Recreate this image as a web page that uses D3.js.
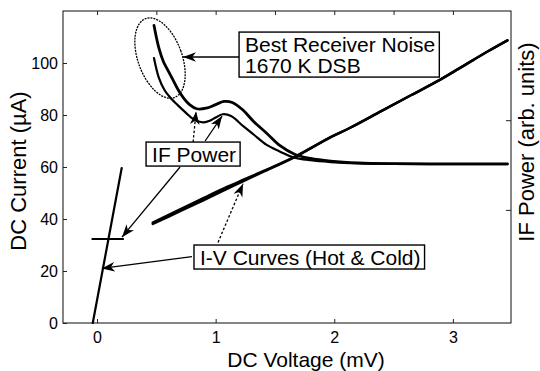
<!DOCTYPE html>
<html>
<head>
<meta charset="utf-8">
<script src="https://cdn.jsdelivr.net/npm/d3@7"></script>
<style>
body{margin:0;background:#fff;}
svg{display:block;font-family:"Liberation Sans",Arial,sans-serif;}
</style>
</head>
<body>
<div id="chart"></div>
<script>
// values (voltage in mV, current in uA)
const xTicks=[0,1,2,3];
const yTicks=[0,20,40,60,80,100];
const topTicks=[0,0.5,1,1.5,2,2.5,3];
const rightTicks=[43.5,78];

// subgap part of the I-V curve
const ivSubV=[-0.036,0.208];
const ivSubI=[0,59.6];
// quasiparticle branch, cold and hot load
const ivV=[0.47,0.7,0.9,1.1,1.23,1.4,1.67,1.97,2.13,2.4,2.65,2.89,3.1,3.3,3.46];
const ivColdI=[38.1,43.0,47.3,51.7,54.5,58.1,63.9,71.5,75,81.6,87.7,93.5,99.2,104.6,108.7];
const ivHotI=[38.6,43.7,48.1,52.4,55.0,58.4,64.0,71.5,75,81.6,87.7,93.5,99.2,104.6,108.7];

// IF power, hot (upper) and cold (lower), plotted on the current scale
const ifHotV=[0.48,0.52,0.56,0.6,0.64,0.68,0.73,0.78,0.84,0.92,1.0,1.07,1.14,1.23,1.32,1.43,1.54,1.67,1.8,1.97,2.2,2.5,3.0,3.46];
const ifHotP=[114.5,106,100.5,97,93.5,90,86.5,84,82.4,82.6,84,85.2,84.8,81.9,77.5,73,68.3,64.8,63.3,62.3,61.6,61.3,61.2,61.2];
const ifColdV=[0.48,0.52,0.57,0.62,0.68,0.75,0.8,0.85,0.9,0.95,1.0,1.06,1.13,1.23,1.32,1.43,1.54,1.65,1.8,1.97,2.2,2.5,3.0,3.46];
const ifColdP=[101.9,94.5,89.5,86.5,83.8,80.8,78.8,77.6,77.2,77.8,79,80.3,79.6,75.8,72.5,68.5,66,63.8,62.6,61.9,61.4,61.2,61.1,61.1];
// IF power level at low bias
const ifLowV=[-0.04,0.22];
const ifLowP=[32.3,32.3];

// annotations
const noteText=[["Best Receiver Noise","1670 K DSB"],["IF Power"],["I-V Curves (Hot & Cold)"]];
const noteV=[1.248,0.464,0.868];
const noteI=[104.2,61.9,22.3];
const arrowFromV=[1.197,0.81,0.911,0.70,0.80,1.02];
const arrowFromI=[102.3,69.6,70,60,25.5,31];
const arrowToV=[0.725,0.835,1.054,0.21,0.04,1.231];
const arrowToI=[102.3,81.3,79.6,33,21,53.6];
const arrowDashed=[false,true,false,false,false,true];
const ellipseV=0.531, ellipseI=101.9;

const W=540,H=371;
const margin={top:11,right:29,bottom:48,left:63};

const x=d3.scaleLinear().domain([-0.287,3.49]).range([margin.left,W-margin.right]);
const y=d3.scaleLinear().domain([0,120]).range([H-margin.bottom,margin.top]);

const svg=d3.select("#chart").append("svg")
  .attr("width",W).attr("height",H);

const defs=svg.append("defs");
defs.append("marker")
  .attr("id","head")
  .attr("viewBox","0 -5 14 10")
  .attr("refX",13).attr("refY",0)
  .attr("markerWidth",14).attr("markerHeight",10)
  .attr("markerUnits","userSpaceOnUse")
  .attr("orient","auto")
  .append("path")
  .attr("d","M0,-4.8L13,0L0,4.8L3.8,0Z")
  .attr("fill","#000");

// axes, ticks pointing inward
const gx=svg.append("g").attr("transform","translate(0,"+y(0)+")")
  .call(d3.axisBottom(x).tickValues(xTicks).tickFormat(d3.format("d")).tickSizeInner(-4).tickSizeOuter(0).tickPadding(9));
const gy=svg.append("g").attr("transform","translate("+margin.left+",0)")
  .call(d3.axisLeft(y).tickValues(yTicks).tickSizeInner(-4).tickSizeOuter(0).tickPadding(5));
const gt=svg.append("g").attr("transform","translate(0,"+margin.top+")")
  .call(d3.axisTop(x).tickValues(topTicks).tickFormat("").tickSizeInner(-4).tickSizeOuter(0));
const gr=svg.append("g").attr("transform","translate("+(W-margin.right)+",0)")
  .call(d3.axisRight(y).tickValues(rightTicks).tickFormat("").tickSizeInner(-5).tickSizeOuter(0));
[gx,gy,gt,gr].forEach(function(g){
  g.select(".domain").remove();
  g.selectAll(".tick line").attr("stroke","#222");
  g.selectAll("text").attr("font-size",16).attr("fill","#000").attr("font-family","Liberation Sans, Arial, sans-serif");
});

svg.append("rect")
  .attr("x",margin.left).attr("y",margin.top)
  .attr("width",W-margin.left-margin.right)
  .attr("height",H-margin.top-margin.bottom)
  .attr("fill","none").attr("stroke","#222").attr("stroke-width",1.1);

// axis titles
svg.append("text")
  .attr("x",306).attr("y",366.5)
  .attr("text-anchor","middle").attr("font-size",21)
  .text("DC Voltage (mV)");
svg.append("text")
  .attr("transform","translate(26,171) rotate(-90)")
  .attr("text-anchor","middle").attr("font-size",22)
  .text("DC Current (\u00b5A)");
svg.append("text")
  .attr("transform","translate(534,142) rotate(-90)")
  .attr("text-anchor","middle").attr("font-size",22)
  .text("IF Power (arb. units)");

// curves
const line=d3.line().x(d=>x(d[0])).y(d=>y(d[1])).curve(d3.curveCatmullRom.alpha(0.5));
function pairs(a,b){return a.map((v,i)=>[v,b[i]]);}
const curves=svg.append("g").attr("fill","none").attr("stroke","#000").attr("stroke-linecap","round");

curves.append("path").attr("d",line(pairs(ivSubV,ivSubI))).attr("stroke-width",2.2);
curves.append("path").attr("d",line(pairs(ifLowV,ifLowP))).attr("stroke-width",2);
curves.append("path").attr("d",line(pairs(ivV,ivColdI))).attr("stroke-width",2.5);
curves.append("path").attr("d",line(pairs(ivV,ivHotI))).attr("stroke-width",2.5);
curves.append("path").attr("d",line(pairs(ifHotV,ifHotP))).attr("stroke-width",2.8);
curves.append("path").attr("d",line(pairs(ifColdV,ifColdP))).attr("stroke-width",2.2);

// dotted ellipse round the best-noise point
svg.append("ellipse")
  .attr("transform","translate("+x(ellipseV)+","+y(ellipseI)+") rotate(-20)")
  .attr("rx",22).attr("ry",42)
  .attr("fill","none").attr("stroke","#000")
  .attr("stroke-width",1.3).attr("stroke-dasharray","2,1");

// arrows
arrowFromV.forEach(function(v,i){
  svg.append("line")
    .attr("x1",x(v)).attr("y1",y(arrowFromI[i]))
    .attr("x2",x(arrowToV[i])).attr("y2",y(arrowToI[i]))
    .attr("stroke","#000").attr("stroke-width",1.3)
    .attr("stroke-dasharray",arrowDashed[i]?"2.5,2":null)
    .attr("marker-end","url(#head)");
});

// boxed labels
noteText.forEach(function(lines,i){
  const g=svg.append("g");
  const t=g.append("text").attr("font-size",21).attr("fill","#000");
  lines.forEach(function(s,k){
    t.append("tspan").attr("x",x(noteV[i])).attr("y",y(noteI[i])+k*21).text(s);
  });
  const bb=t.node().getBBox();
  g.insert("rect","text")
    .attr("x",bb.x-6).attr("y",bb.y-1)
    .attr("width",bb.width+10).attr("height",bb.height+1)
    .attr("fill","#fff").attr("stroke","#000").attr("stroke-width",1.4);
});
</script>
</body>
</html>
